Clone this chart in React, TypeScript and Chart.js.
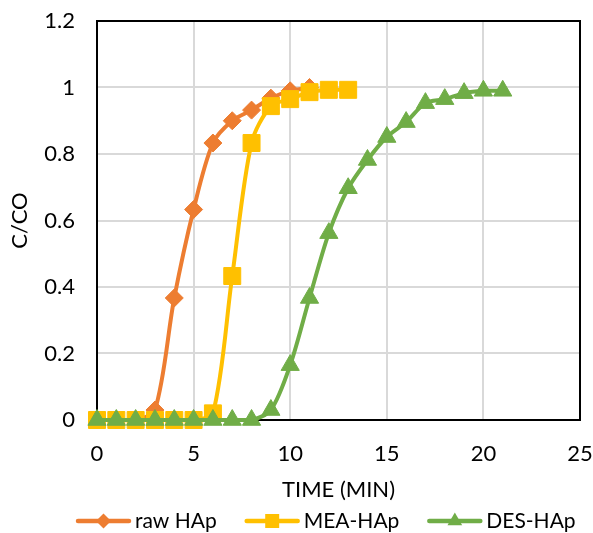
import React, { useEffect, useRef } from "react";
import { Chart, registerables } from "chart.js";

Chart.register(...registerables);

// ---- data ----
const RAW_TIME = [0, 1, 2, 3, 4, 5, 6, 7, 8, 9, 10, 11];
const RAW_HAP = [0, 0, 0, 0.03, 0.367, 0.633, 0.833, 0.9, 0.932, 0.968, 0.99, 1.0];

const MEA_TIME = [0, 1, 2, 3, 4, 5, 6, 7, 8, 9, 10, 11, 12, 13];
const MEA_HAP = [0, 0, 0, 0, 0, 0, 0.02, 0.433, 0.833, 0.944, 0.965, 0.986, 0.993, 0.993];

const DES_TIME = [0, 1, 2, 3, 4, 5, 6, 7, 8, 9, 10, 11, 12, 13, 14, 15, 16, 17, 18, 19, 20, 21];
const DES_HAP = [0, 0, 0, 0, 0, 0, 0, 0, 0, 0.03, 0.165, 0.367, 0.562, 0.697, 0.782, 0.851, 0.896, 0.953, 0.965, 0.983, 0.99, 0.99];

const SERIES_LABELS = ["raw HAp", "MEA-HAp", "DES-HAp"];
const SERIES_COLORS = ["#ED7D31", "#FFC000", "#70AD47"];
const SERIES_MARKERS = ["rectRot", "rect", "triangle"];

const X_TICKS = [0, 5, 10, 15, 20, 25];
const Y_TICKS = [0, 0.2, 0.4, 0.6, 0.8, 1, 1.2];
const X_TITLE = "TIME (MIN)";
const Y_TITLE = "C/CO";

const FONT = "Lato, 'Open Sans', sans-serif";
const FONT_SIZE = 22;
const LEGEND_FONT_SIZE = 21;

function drawMarker(ctx: CanvasRenderingContext2D, style: string, x: number, y: number, color: string) {
  ctx.save();
  ctx.fillStyle = color;
  ctx.beginPath();
  if (style === "rectRot") {
    const r = 7.5;
    ctx.moveTo(x, y - r);
    ctx.lineTo(x + r, y);
    ctx.lineTo(x, y + r);
    ctx.lineTo(x - r, y);
  } else if (style === "rect") {
    const s = 7;
    ctx.rect(x - s, y - s, 2 * s, 2 * s);
  } else {
    const r = 8.5;
    ctx.moveTo(x, y - r);
    ctx.lineTo(x + r * Math.sin((2 * Math.PI) / 3), y + r / 2);
    ctx.lineTo(x - r * Math.sin((2 * Math.PI) / 3), y + r / 2);
  }
  ctx.closePath();
  ctx.fill();
  ctx.restore();
}

const frameAndLegend = {
  id: "frameAndLegend",
  beforeDatasetsDraw(chart: any) {
    const { ctx, chartArea } = chart;
    ctx.save();
    ctx.strokeStyle = "#000";
    ctx.lineWidth = 2;
    ctx.strokeRect(chartArea.left, chartArea.top, chartArea.right - chartArea.left, chartArea.bottom - chartArea.top);
    ctx.restore();
  },
  afterDraw(chart: any) {
    const { ctx } = chart;
    ctx.save();
    ctx.font = `${LEGEND_FONT_SIZE}px ${FONT}`;
    ctx.textBaseline = "alphabetic";
    ctx.textAlign = "left";
    const y = 521;
    const baseline = 528;
    const lineLen = 55;
    const gapText = 4;
    const gapItem = 28;
    let x = 76;
    SERIES_LABELS.forEach((label, i) => {
      ctx.strokeStyle = SERIES_COLORS[i];
      ctx.lineWidth = 4.5;
      ctx.lineCap = "round";
      ctx.beginPath();
      ctx.moveTo(x + 2, y);
      ctx.lineTo(x + lineLen - 2, y);
      ctx.stroke();
      drawMarker(ctx, SERIES_MARKERS[i], x + lineLen / 2, y, SERIES_COLORS[i]);
      ctx.fillStyle = "#000";
      ctx.fillText(label, x + lineLen + gapText, baseline);
      x += lineLen + gapText + ctx.measureText(label).width + gapItem;
    });
    ctx.restore();
  },
};

function makeSeries(times: number[], values: number[], i: number, order: number, radius: number) {
  return {
    label: SERIES_LABELS[i],
    data: times.map((t, k) => ({ x: t, y: values[k] })),
    borderColor: SERIES_COLORS[i],
    backgroundColor: SERIES_COLORS[i],
    borderWidth: 4,
    pointStyle: SERIES_MARKERS[i],
    pointRadius: radius,
    pointBorderWidth: 1,
    pointBorderColor: SERIES_COLORS[i],
    pointBackgroundColor: SERIES_COLORS[i],
    tension: 0.3,
    order,
    clip: false,
  };
}

export default function App() {
  const canvasRef = useRef<HTMLCanvasElement | null>(null);

  useEffect(() => {
    const canvas = canvasRef.current;
    if (!canvas) return;
    const chart = new Chart(canvas, {
      type: "line",
      data: {
        datasets: [
          makeSeries(RAW_TIME, RAW_HAP, 0, 2, 9),
          makeSeries(MEA_TIME, MEA_HAP, 1, 1, 12),
          makeSeries(DES_TIME, DES_HAP, 2, 0, 10.5),
        ] as any,
      },
      options: {
        animation: false,
        responsive: false,
        devicePixelRatio: 1,
        layout: { padding: { top: 21, right: 12, left: 0, bottom: 0 } },
        plugins: {
          legend: { display: false },
          tooltip: { enabled: false },
        },
        scales: {
          x: {
            type: "linear",
            min: 0,
            max: 25,
            afterBuildTicks: (scale: any) => {
              scale.ticks = X_TICKS.map((v) => ({ value: v }));
            },
            afterFit: (scale: any) => {
              scale.height = 113;
              scale.paddingLeft = 0;
              scale.paddingRight = 0;
            },
            grid: { color: "#d9d9d9", lineWidth: 2, drawTicks: false },
            border: { display: false },
            ticks: {
              padding: 21,
              color: "#000",
              font: { family: FONT, size: FONT_SIZE },
              maxRotation: 0,
              callback: (v: any) => String(v),
            },
            title: {
              display: true,
              text: X_TITLE,
              color: "#000",
              font: { family: FONT, size: FONT_SIZE },
              padding: { top: 0, bottom: 30 },
            },
          },
          y: {
            type: "linear",
            min: 0,
            max: 1.2,
            afterBuildTicks: (scale: any) => {
              scale.ticks = Y_TICKS.map((v) => ({ value: v }));
            },
            afterFit: (scale: any) => {
              scale.width = 97;
              scale.paddingTop = 0;
              scale.paddingBottom = 0;
            },
            grid: { color: "#d9d9d9", lineWidth: 2, drawTicks: false },
            border: { display: false },
            ticks: {
              padding: 22,
              color: "#000",
              font: { family: FONT, size: FONT_SIZE },
              callback: (v: any) => String(Number(Number(v).toFixed(1))),
            },
            title: {
              display: true,
              text: Y_TITLE,
              color: "#000",
              font: { family: FONT, size: FONT_SIZE },
              padding: { top: 7, bottom: 0 },
            },
          },
        },
      } as any,
      plugins: [frameAndLegend],
    });
    return () => chart.destroy();
  }, []);

  return (
    <div style={{ position: "absolute", left: 0, top: 0, width: 593, height: 533, background: "#fff" }}>
      <canvas ref={canvasRef} width={593} height={533} />
    </div>
  );
}
